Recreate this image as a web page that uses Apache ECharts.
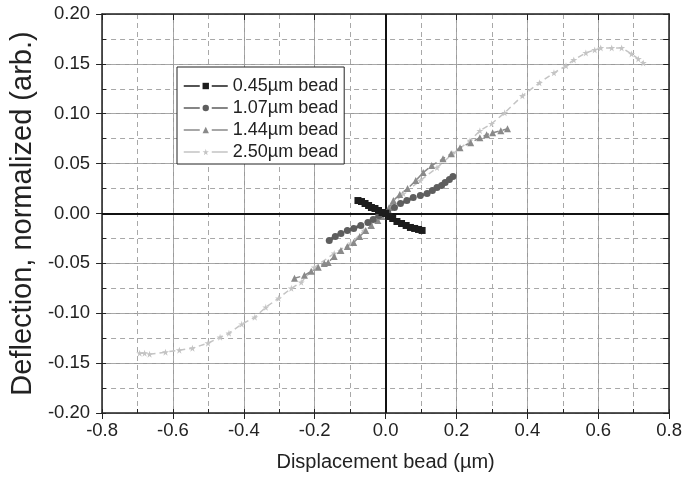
<!DOCTYPE html>
<html>
<head>
<meta charset="utf-8">
<script src="https://cdn.jsdelivr.net/npm/echarts@6/dist/echarts.min.js"></script>
<style>
  html, body { margin: 0; padding: 0; background: #fff; }
  #chart { width: 685px; height: 477px; }
</style>
</head>
<body>
<div id="chart"></div>
<script>
// values
const seriesNames = ["0.45\u00b5m bead", "1.07\u00b5m bead", "1.44\u00b5m bead", "2.50\u00b5m bead"];

const bead045X = [-0.078, -0.068, -0.058, -0.048, -0.040, -0.030, -0.020, -0.010, 0.000, 0.010, 0.020, 0.032, 0.045, 0.058, 0.070, 0.082, 0.093, 0.103];
const bead045Y = [0.013, 0.012, 0.010, 0.008, 0.006, 0.005, 0.003, 0.001, 0.000, -0.003, -0.005, -0.008, -0.010, -0.012, -0.014, -0.015, -0.016, -0.017];

const bead107X = [-0.159, -0.142, -0.126, -0.108, -0.090, -0.070, -0.050, -0.035, -0.019, 0.006, 0.025, 0.042, 0.060, 0.078, 0.098, 0.117, 0.132, 0.145, 0.158, 0.168, 0.180, 0.190];
const bead107Y = [-0.027, -0.023, -0.020, -0.017, -0.015, -0.012, -0.009, -0.006, -0.002, 0.001, 0.006, 0.010, 0.013, 0.016, 0.018, 0.020, 0.023, 0.026, 0.028, 0.031, 0.034, 0.037];

const bead144X = [-0.257, -0.229, -0.210, -0.190, -0.173, -0.162, -0.145, -0.126, -0.108, -0.090, -0.073, -0.056, -0.040, -0.022, -0.010, 0.000, 0.010, 0.022, 0.040, 0.062, 0.085, 0.106, 0.130, 0.162, 0.185, 0.210, 0.240, 0.266, 0.285, 0.302, 0.325, 0.344];
const bead144Y = [-0.065, -0.062, -0.058, -0.054, -0.050, -0.049, -0.043, -0.037, -0.033, -0.029, -0.023, -0.017, -0.012, -0.007, -0.003, 0.000, 0.006, 0.013, 0.019, 0.025, 0.033, 0.041, 0.048, 0.055, 0.060, 0.066, 0.071, 0.076, 0.079, 0.081, 0.083, 0.085];

const bead250X = [-0.694, -0.680, -0.666, -0.621, -0.582, -0.545, -0.501, -0.467, -0.442, -0.406, -0.369, -0.338, -0.302, -0.266, -0.238, -0.201, -0.145, -0.098, -0.061, -0.022, 0.000, 0.022, 0.050, 0.098, 0.145, 0.190, 0.238, 0.266, 0.299, 0.336, 0.386, 0.434, 0.475, 0.509, 0.531, 0.565, 0.590, 0.607, 0.638, 0.666, 0.694, 0.713, 0.727];
const bead250Y = [-0.140, -0.140, -0.141, -0.139, -0.137, -0.135, -0.130, -0.124, -0.120, -0.111, -0.104, -0.094, -0.085, -0.075, -0.069, -0.054, -0.040, -0.030, -0.017, -0.005, 0.000, 0.010, 0.020, 0.033, 0.046, 0.060, 0.073, 0.083, 0.090, 0.101, 0.118, 0.131, 0.141, 0.148, 0.154, 0.161, 0.164, 0.166, 0.166, 0.166, 0.160, 0.155, 0.151];

const xTicks = [-0.8, -0.6, -0.4, -0.2, 0.0, 0.2, 0.4, 0.6, 0.8];
const yTicks = [-0.20, -0.15, -0.10, -0.05, 0.00, 0.05, 0.10, 0.15, 0.20];

const FONT = "'Liberation Sans', Arial, sans-serif";
const STAR = "path://M50,0 L61,35 L98,35 L68,57 L79,91 L50,70 L21,91 L32,57 L2,35 L39,35 Z";

const zip = (xs, ys) => xs.map((x, i) => [x, ys[i]]);

const lineSeries = (name, xs, ys, color, symbol, size, width) => ({
  name: name,
  type: "line",
  xAxisIndex: 0,
  yAxisIndex: 0,
  data: zip(xs, ys),
  symbol: symbol,
  symbolSize: size,
  showSymbol: true,
  itemStyle: { color: color },
  lineStyle: { color: color, width: width, type: [6, 4] },
  z: 5,
});

const chart = echarts.init(document.getElementById("chart"));

const option = {
  animation: false,
  backgroundColor: "#fff",
  textStyle: { fontFamily: FONT },
  grid: { left: 99, right: 14, top: 14, bottom: 64, containLabel: false },
  legend: {
    orient: "vertical",
    left: 177,
    top: 67,
    data: seriesNames,
    itemWidth: 44,
    itemHeight: 8,
    itemGap: 4,
    padding: [10, 6, 3, 6],
    borderColor: "#222",
    borderWidth: 1,
    backgroundColor: "#fff",
    borderRadius: 0,
    lineStyle: { type: [16, 12], width: 1.5 },
    itemStyle: { borderWidth: 0 },
    textStyle: { fontSize: 18, color: "#222", fontFamily: FONT },
  },
  xAxis: [
    {
      type: "value",
      position: "bottom",
      min: xTicks[0],
      max: xTicks[xTicks.length - 1],
      interval: 0.2,
      axisLine: { onZero: false, lineStyle: { color: "#222", width: 1.5 } },
      axisTick: { show: true, inside: false, length: 6, lineStyle: { color: "#222" } },
      axisLabel: {
        fontSize: 18.5, color: "#222", fontFamily: FONT, margin: 8,
        formatter: (v) => v.toFixed(1),
      },
      splitLine: { show: true, lineStyle: { color: "#9a9a9a", width: 1 } },
      name: "Displacement bead (\u00b5m)",
      nameLocation: "middle",
      nameGap: 39,
      nameTextStyle: { fontSize: 20, color: "#222", fontFamily: FONT },
    },
    {
      type: "value",
      position: "bottom",
      min: -0.8, max: 0.8, interval: 0.1,
      axisLine: { show: false, onZero: false },
      axisTick: { show: true, inside: true, length: 4, lineStyle: { color: "#222" } },
      axisLabel: { show: false },
      splitLine: { show: true, lineStyle: { color: "#a8a8a8", width: 1, type: [5, 4] } },
      z: 0,
    },
    {
      type: "value",
      position: "top",
      min: -0.8, max: 0.8, interval: 0.2,
      axisLine: { onZero: false, lineStyle: { color: "#222", width: 1.5 } },
      axisTick: { show: true, inside: true, length: 6, lineStyle: { color: "#222" } },
      axisLabel: { show: false },
      splitLine: { show: false },
    },
  ],
  yAxis: [
    {
      type: "value",
      position: "left",
      min: yTicks[0],
      max: yTicks[yTicks.length - 1],
      interval: 0.05,
      axisLine: { onZero: false, lineStyle: { color: "#222", width: 1.5 } },
      axisTick: { show: true, inside: false, length: 6, lineStyle: { color: "#222" } },
      axisLabel: {
        fontSize: 18.5, color: "#222", fontFamily: FONT, margin: 12,
        formatter: (v) => v.toFixed(2),
      },
      splitLine: { show: true, lineStyle: { color: "#9a9a9a", width: 1 } },
      name: "Deflection, normalized (arb.)",
      nameLocation: "middle",
      nameGap: 61,
      nameTextStyle: { fontSize: 29, color: "#222", fontFamily: FONT },
    },
    {
      type: "value",
      position: "left",
      min: -0.2, max: 0.2, interval: 0.025,
      axisLine: { show: false, onZero: false },
      axisTick: { show: true, inside: true, length: 4, lineStyle: { color: "#222" } },
      axisLabel: { show: false },
      splitLine: { show: true, lineStyle: { color: "#a8a8a8", width: 1, type: [5, 4] } },
      z: 0,
    },
    {
      type: "value",
      position: "right",
      min: -0.2, max: 0.2, interval: 0.025,
      axisLine: { onZero: false, lineStyle: { color: "#222", width: 1.5 } },
      axisTick: { show: true, inside: true, length: 6, lineStyle: { color: "#222" } },
      axisLabel: { show: false },
      splitLine: { show: false },
    },
  ],
  series: [
    {
      type: "line",
      xAxisIndex: 0,
      yAxisIndex: 0,
      data: [],
      silent: true,
      z: 3,
      markLine: {
        silent: true,
        symbol: "none",
        label: { show: false },
        lineStyle: { color: "#111", width: 2, type: "solid" },
        data: [{ xAxis: 0 }, { yAxis: 0 }],
      },
    },
    lineSeries(seriesNames[3], bead250X, bead250Y, "#c4c4c4", STAR, 7, 1.5),
    lineSeries(seriesNames[2], bead144X, bead144Y, "#8a8a8a", "triangle", 7, 1.5),
    lineSeries(seriesNames[1], bead107X, bead107Y, "#5e5e5e", "circle", 7, 3),
    lineSeries(seriesNames[0], bead045X, bead045Y, "#1c1c1c", "rect", 7, 4),
  ],
};

chart.setOption(option);
</script>
</body>
</html>
